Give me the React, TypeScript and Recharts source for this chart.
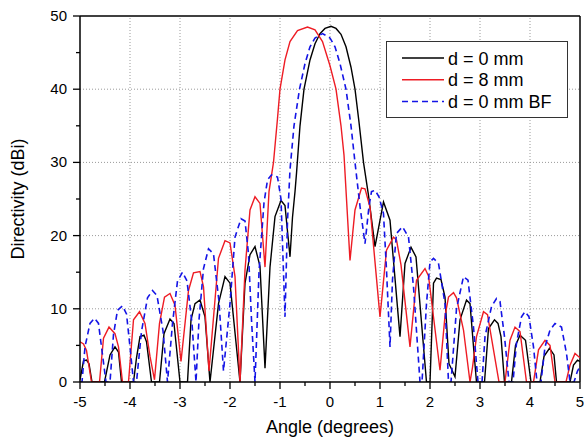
import { LineChart, Line, XAxis, YAxis, ReferenceLine } from 'recharts';

// angle (deg) / directivity (dBi) pairs
const d0mm: [number, number][] = [
  [-5.0, 0.3], [-4.93, 2.9], [-4.87, 3.0], [-4.82, 2.5], [-4.76, 0],
  [-4.51, 0], [-4.4, 3.7], [-4.3, 4.8], [-4.23, 4.1], [-4.17, 0],
  [-3.93, 0], [-3.87, 3.3], [-3.8, 6.2], [-3.72, 6.4], [-3.67, 5.5], [-3.57, 0],
  [-3.41, 0], [-3.32, 6.6], [-3.2, 8.6], [-3.12, 8.0], [-3.0, 0],
  [-2.85, 0], [-2.78, 8.5], [-2.7, 10.7], [-2.6, 11.2], [-2.5, 8.9], [-2.4, 0],
  [-2.23, 10.7], [-2.1, 14.4], [-2.0, 13.5], [-1.8, 0],
  [-1.7, 13.5], [-1.6, 17.4], [-1.5, 18.5], [-1.4, 15.8], [-1.3, 1.9],
  [-1.2, 15.7], [-1.1, 22.6], [-0.98, 24.8], [-0.9, 24.1], [-0.8, 17.1],
  [-0.75, 22.5], [-0.7, 26], [-0.67, 28.5], [-0.6, 35], [-0.52, 40], [-0.4, 44],
  [-0.3, 46.2], [-0.2, 47.6], [-0.1, 48.3], [0.02, 48.6], [0.12, 48.3], [0.22, 47.5],
  [0.32, 45.8], [0.42, 43], [0.5, 40], [0.58, 35.5], [0.67, 30], [0.77, 25.5], [0.9, 18.5],
  [1.07, 24.6], [1.2, 22.1], [1.4, 6.2], [1.5, 16.2], [1.62, 18.4], [1.72, 17.1], [1.93, 0],
  [2.0, 0], [2.07, 13.5], [2.13, 14.2], [2.22, 14.0], [2.3, 11.6], [2.38, 2.5], [2.5, 0.7],
  [2.6, 8.5], [2.73, 11.2], [2.8, 10.7], [2.88, 4], [2.93, 0],
  [3.09, 0], [3.17, 7.3], [3.29, 8.5], [3.36, 8.0], [3.42, 6.2], [3.49, 0],
  [3.63, 0], [3.71, 5.0], [3.8, 6.4], [3.91, 5.7], [4.02, 0],
  [4.2, 0], [4.28, 3.5], [4.39, 4.6], [4.48, 3.7], [4.53, 0],
  [4.8, 0], [4.87, 2.3], [4.95, 3.0], [5.0, 2.8],
];

const d8mm: [number, number][] = [
  [-5.0, 5.5], [-4.93, 5.2], [-4.87, 4.3], [-4.77, 0],
  [-4.61, 0], [-4.53, 6.0], [-4.42, 7.5], [-4.3, 6.6], [-4.23, 4.8], [-4.15, 0],
  [-4.03, 0], [-3.93, 8.5], [-3.81, 9.6], [-3.7, 8.0], [-3.6, 3.5], [-3.51, 0.3],
  [-3.41, 8.0], [-3.31, 11.6], [-3.2, 12.1], [-3.1, 10.5], [-2.98, 2.8],
  [-2.83, 12.5], [-2.73, 14.9], [-2.6, 15.1], [-2.53, 13.0], [-2.42, 1.5],
  [-2.23, 16.9], [-2.1, 19.3], [-2.0, 19.0], [-1.9, 14.4], [-1.8, 0],
  [-1.7, 15.3], [-1.6, 23.5], [-1.5, 25.3], [-1.4, 24.4], [-1.3, 15.7],
  [-1.22, 26], [-1.13, 30], [-1.05, 36], [-1.0, 40], [-0.9, 44], [-0.8, 46.5],
  [-0.65, 48], [-0.45, 48.5], [-0.3, 48.1], [-0.15, 46.5], [0.0, 43.2], [0.12, 40],
  [0.22, 35], [0.28, 31], [0.33, 25], [0.4, 16.6],
  [0.5, 23.5], [0.63, 26.5], [0.7, 26.4], [0.8, 23.9], [1.0, 8.9],
  [1.13, 18], [1.27, 19.8], [1.33, 19.4], [1.42, 16], [1.6, 4.8],
  [1.73, 13.9], [1.9, 15.5], [1.97, 14.5], [2.2, 1.6],
  [2.3, 9], [2.37, 11.6], [2.47, 12.2], [2.53, 11.5], [2.67, 7.1], [2.8, 0],
  [2.85, 2], [2.93, 6.2], [3.07, 9.6], [3.15, 9.2], [3.38, 0],
  [3.5, 0], [3.6, 5.7], [3.7, 7.5], [3.8, 6.9], [3.93, 0],
  [4.07, 0], [4.17, 4.4], [4.3, 5.7], [4.4, 5.0], [4.5, 0],
  [4.72, 0], [4.8, 2.3], [4.9, 3.9], [5.0, 3.3],
];

const d0mmBF: [number, number][] = [
  [-5.0, 0], [-4.96, 0], [-4.9, 4.8], [-4.8, 8.0], [-4.71, 8.7], [-4.63, 8.0], [-4.57, 4.8], [-4.48, 0],
  [-4.4, 0], [-4.33, 6.5], [-4.25, 9.8], [-4.15, 10.4], [-4.07, 9.3], [-4.0, 4.8], [-3.93, 0],
  [-3.87, 0], [-3.77, 6.9], [-3.65, 11.5], [-3.55, 12.5], [-3.46, 11.8], [-3.34, 7.0], [-3.25, 0],
  [-3.15, 8], [-3.05, 13.8], [-2.95, 15], [-2.86, 13.8], [-2.76, 8], [-2.68, 0],
  [-2.62, 8.5], [-2.53, 15.5], [-2.43, 18.2], [-2.33, 17.5], [-2.22, 11], [-2.13, 1.5],
  [-2.0, 10.7], [-1.9, 19.8], [-1.78, 22.3], [-1.7, 22], [-1.63, 17.5], [-1.57, 8.5], [-1.5, 0],
  [-1.42, 15], [-1.32, 24.5], [-1.25, 27.6], [-1.17, 28.3], [-1.05, 28], [-0.98, 25], [-0.9, 8.9],
  [-0.85, 22], [-0.8, 29], [-0.72, 35], [-0.61, 40], [-0.5, 43.5], [-0.4, 45.8], [-0.3, 47],
  [-0.15, 47.6], [0.0, 47], [0.1, 45.8], [0.2, 43.5], [0.32, 40], [0.42, 35], [0.5, 30],
  [0.6, 24], [0.7, 18.9],
  [0.78, 24], [0.83, 26], [0.9, 26.2], [0.98, 25.3], [1.07, 23], [1.13, 15.3], [1.2, 4.8],
  [1.25, 14], [1.33, 20.3], [1.45, 21.2], [1.57, 19.8], [1.67, 13], [1.8, 0],
  [1.84, 0], [1.93, 10.7], [2.0, 16.4], [2.07, 16.9], [2.17, 16.2], [2.3, 10.7], [2.37, 0],
  [2.42, 0], [2.53, 10], [2.67, 14.4], [2.76, 13.9], [2.87, 7.5], [2.96, 0],
  [3.04, 0], [3.1, 6.2], [3.23, 10.3], [3.33, 11.4], [3.4, 11], [3.49, 6.2], [3.58, 0],
  [3.66, 0], [3.73, 5.3], [3.83, 8.9], [3.9, 9.6], [3.98, 8.9], [4.07, 4.8], [4.14, 0],
  [4.22, 0], [4.3, 4.8], [4.4, 7.1], [4.5, 8.0], [4.63, 7.5], [4.73, 3.9], [4.8, 0],
  [4.88, 0], [4.95, 1.5], [5.0, 2.1],
];

const xTicks = [-5, -4.5, -4, -3.5, -3, -2.5, -2, -1.5, -1, -0.5, 0, 0.5, 1, 1.5, 2, 2.5, 3, 3.5, 4, 4.5, 5];
const yTicks = [0, 5, 10, 15, 20, 25, 30, 35, 40, 45, 50];
const gridX = [-4, -3, -2, -1, 0, 1, 2, 3, 4];
const gridY = [10, 20, 30, 40];

const seriesNames = ['d = 0 mm', 'd = 8 mm', 'd = 0 mm BF'];

const FONT = '"Liberation Sans", Arial, sans-serif';

const toPts = (s: [number, number][]) => s.map(([x, y]) => ({ x, y }));

function XTick(props: any) {
  const { x, y, payload } = props;
  const v = payload.value;
  const major = Number.isInteger(v);
  return (
    <g>
      <line x1={x} x2={x} y1={y} y2={y + (major ? 7 : 4)} stroke="#000" strokeWidth={1.3} />
      {major && (
        <text x={x} y={y + 25} textAnchor="middle" fontSize={15} fontFamily={FONT} fill="#000">
          {v}
        </text>
      )}
    </g>
  );
}

function YTick(props: any) {
  const { x, y, payload } = props;
  const v = payload.value;
  const major = v % 10 === 0;
  return (
    <g>
      <line x1={x} x2={x - (major ? 7 : 4)} y1={y} y2={y} stroke="#000" strokeWidth={1.3} />
      {major && (
        <text x={x - 13} y={y + 5} textAnchor="end" fontSize={15} fontFamily={FONT} fill="#000">
          {v}
        </text>
      )}
    </g>
  );
}

function YTitle(props: any) {
  const { x, y, height } = props.viewBox;
  const cx = x + 18;
  const cy = y + height / 2;
  return (
    <text x={cx} y={cy} transform={`rotate(-90 ${cx} ${cy})`} textAnchor="middle" dominantBaseline="central"
      fontSize={18} fontFamily={FONT} fill="#000">
      Directivity (dBi)
    </text>
  );
}

function XTitle(props: any) {
  const { x, y, width } = props.viewBox;
  return (
    <text x={x + width / 2} y={y + 51} textAnchor="middle" fontSize={18} fontFamily={FONT} fill="#000">
      Angle (degrees)
    </text>
  );
}

function LegendBox() {
  const rows = [
    { name: seriesNames[0], color: '#000', dash: undefined },
    { name: seriesNames[1], color: '#ee1c24', dash: undefined },
    { name: seriesNames[2], color: '#1414e6', dash: '6 4' },
  ];
  return (
    <div style={{ position: 'absolute', left: 386, top: 41, width: 182, height: 77, boxSizing: 'border-box',
      border: '1.5px solid #333', background: '#fff' }}>
      <svg width={180} height={74} style={{ display: 'block' }}>
        {rows.map((r, i) => (
          <g key={r.name}>
            <line x1={15} x2={57} y1={16 + i * 21.7} y2={16 + i * 21.7} stroke={r.color} strokeWidth={1.5}
              strokeDasharray={r.dash} />
            <text x={61} y={16 + i * 21.7 + 6.5} fontSize={18} fontFamily={FONT} fill="#000">{r.name}</text>
          </g>
        ))}
      </svg>
    </div>
  );
}

export default function App() {
  return (
    <div style={{ position: 'absolute', left: 0, top: 0, width: 584, height: 441, background: '#fff' }}>
      <LineChart width={584} height={441} margin={{ top: 16, right: 4, left: 0, bottom: 0 }}>
        <XAxis type="number" dataKey="x" domain={[-5, 5]} ticks={xTicks} interval={0} allowDataOverflow
          tickSize={0} tickMargin={0} tickLine={false} tick={(p: any) => <XTick {...p} />}
          axisLine={{ stroke: '#000', strokeWidth: 1.5 }} height={59} label={{ content: XTitle }} />
        <YAxis type="number" domain={[0, 50]} ticks={yTicks} interval={0} allowDataOverflow
          tickSize={0} tickMargin={0} tickLine={false} tick={(p: any) => <YTick {...p} />}
          axisLine={{ stroke: '#000', strokeWidth: 1.5 }} width={80} label={{ content: YTitle }} />
        {gridX.map((v) => (
          <ReferenceLine key={'gx' + v} x={v} stroke="#9a9a9a" strokeDasharray="1 2" />
        ))}
        {gridY.map((v) => (
          <ReferenceLine key={'gy' + v} y={v} stroke="#9a9a9a" strokeDasharray="1 2" />
        ))}
        <ReferenceLine y={50} stroke="#000" strokeWidth={1.5} />
        <ReferenceLine x={5} stroke="#000" strokeWidth={1.5} />
        <Line data={toPts(d0mm)} dataKey="y" type="linear" stroke="#000" strokeWidth={1.4} dot={false}
          isAnimationActive={false} name={seriesNames[0]} />
        <Line data={toPts(d8mm)} dataKey="y" type="linear" stroke="#ee1c24" strokeWidth={1.4} dot={false}
          isAnimationActive={false} name={seriesNames[1]} />
        <Line data={toPts(d0mmBF)} dataKey="y" type="linear" stroke="#1414e6" strokeWidth={1.6} dot={false}
          strokeDasharray="6 4" isAnimationActive={false} name={seriesNames[2]} />
      </LineChart>
      <LegendBox />
    </div>
  );
}
